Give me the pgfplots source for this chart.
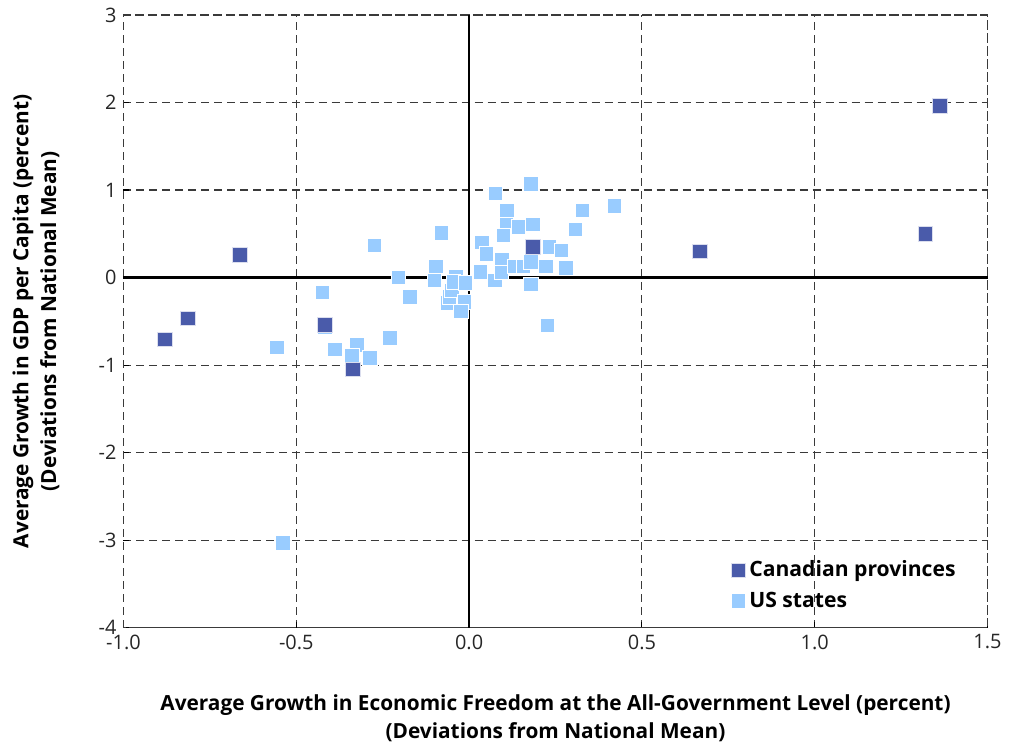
\documentclass[border=0pt]{standalone}
\usepackage{fontspec}
\setmainfont{Open Sans}
\usepackage{pgfplots}
\pgfplotsset{compat=1.18}
\definecolor{canblue}{HTML}{4A5BAA}
\definecolor{usblue}{HTML}{99CCFF}
\definecolor{gridgray}{HTML}{3A3A3A}
\begin{document}
\begin{tikzpicture}
\path[use as bounding box] (-61.75bp,-58.15bp) rectangle (444.75bp,313.85bp);
\begin{axis}[
  at={(0,0)}, anchor=south west, scale only axis,
  width=432bp, height=306.35bp,
  xmin=-1, xmax=1.5, ymin=-4, ymax=3,
  xtick={-1,-0.5,0,0.5,1,1.5}, ytick={-4,-3,-2,-1,0,1,2,3},
  xticklabel style={/pgf/number format/.cd, fixed, fixed zerofill, precision=1},
  /pgf/number format/assume math mode=true,
  ticklabel style={font=\fontsize{10}{12}\selectfont, text=black!85},
  tick pos=left, tick align=inside, major tick length=3bp,
  tick style={black, line width=0.6pt},
  grid=major, grid style={gridgray, line width=0.6pt, dash pattern=on 4bp off 2.5bp},
  axis line style={gridgray, line width=0.6pt, dash pattern=on 4bp off 2.5bp},
  extra x ticks={0}, extra x tick labels={},
  extra x tick style={grid style={solid, black, line width=1.1pt, dash pattern=}},
  extra y ticks={0}, extra y tick labels={},
  extra y tick style={grid style={solid, black, line width=1.1pt, dash pattern=}},
  xlabel={Average Growth in Economic Freedom at the All-Government Level (percent)\\(Deviations from National Mean)},
  ylabel={Average Growth in GDP per Capita (percent)\\(Deviations from National Mean)},
  label style={font=\bfseries\fontsize{10.45}{14}\selectfont, align=center},
  xlabel style={at={(rel axis cs:0.5,0)}, anchor=north, yshift=-30bp},
  ylabel style={at={(rel axis cs:0,0.5)}, anchor=south, yshift=28.5bp},
  legend style={at={(rel axis cs:0.975,0.015)}, anchor=south east, draw=none, fill=none,
    font=\bfseries\fontsize{10.6}{13}\selectfont, row sep=2bp},
  legend cell align=left,
  reverse legend,
]
\addplot[only marks, mark=square*, mark size=3.6bp, mark options={fill=usblue, draw=white, line width=0.5pt}] table {
x y
-0.417 -0.57
-0.538 -3.03
-0.556 -0.80
-0.425 -0.17
-0.274 0.37
-0.388 -0.82
-0.324 -0.77
-0.339 -0.89
-0.287 -0.92
-0.229 -0.69
-0.205 0.00
-0.171 -0.22
-0.079 0.51
-0.096 0.13
-0.100 -0.03
-0.063 -0.29
-0.057 -0.22
-0.050 -0.15
-0.014 -0.28
-0.023 -0.39
-0.038 0.01
-0.045 -0.05
-0.010 -0.06
0.037 0.40
0.051 0.27
0.033 0.065
0.075 -0.03
0.095 0.20
0.094 0.06
0.100 0.48
0.109 0.64
0.110 0.77
0.143 0.58
0.077 0.96
0.179 1.07
0.185 0.61
0.131 0.13
0.157 0.13
0.179 0.18
0.179 -0.08
0.232 0.35
0.268 0.31
0.223 0.13
0.280 0.11
0.307 0.55
0.328 0.77
0.420 0.82
0.227 -0.55
};
\addlegendentry{US states}
\addplot[only marks, mark=square*, mark size=3.6bp, mark options={fill=canblue, draw=white!80!canblue, line width=0.5pt}] table {
x y
1.363 1.96
1.320 0.50
0.668 0.30
0.185 0.35
-0.663 0.26
-0.813 -0.47
-0.880 -0.71
-0.417 -0.54
-0.336 -1.05
};
\addlegendentry{Canadian provinces}
\end{axis}
\end{tikzpicture}
\end{document}
